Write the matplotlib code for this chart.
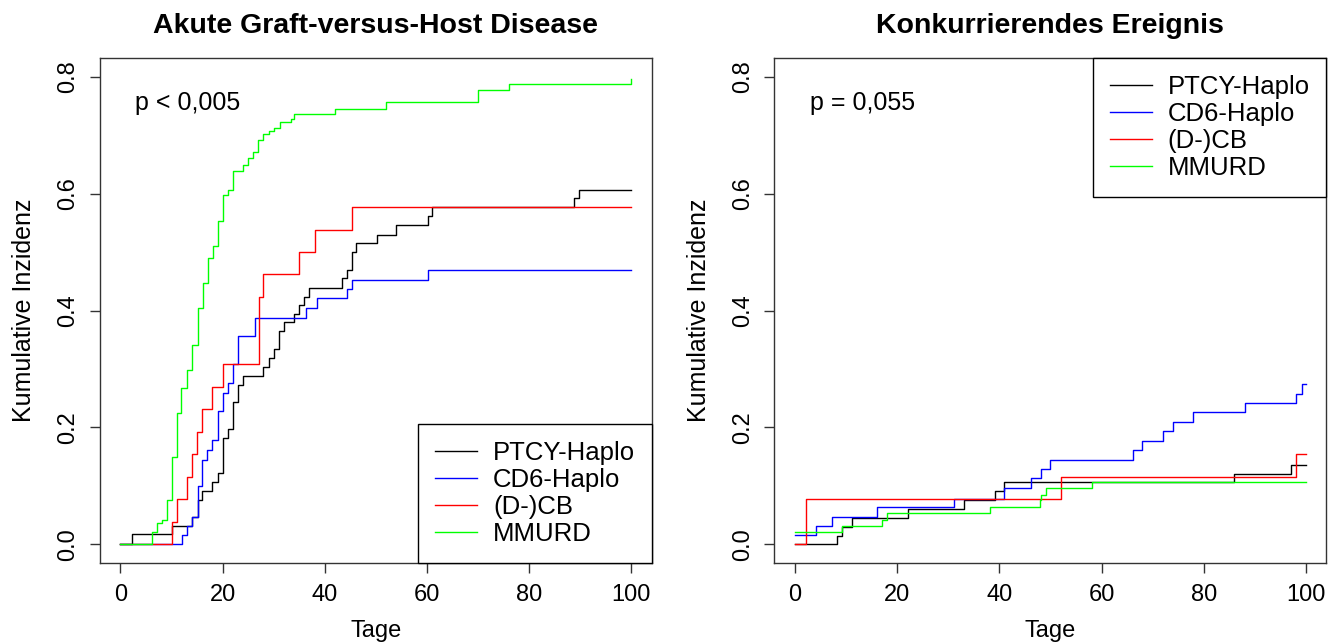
import matplotlib
matplotlib.use('Agg')
import matplotlib.pyplot as plt

plt.rcParams['font.family'] = ['Liberation Sans', 'DejaVu Sans']

groups = ['PTCY-Haplo', 'CD6-Haplo', '(D-)CB', 'MMURD']
colors = ['#000000', '#0000FF', '#FF0000', '#00FF00']

# acute GvHD - cumulative incidence (day, value), step functions
gvhd_ptcy_days = [0, 2.2, 10, 14, 15.2, 16, 18, 19, 20, 21, 22, 23, 24, 28, 29, 30, 31, 32, 34, 35, 36, 37,
                  43.3, 44.3, 45.3, 46.2, 50.3, 54, 60.1, 61, 88.8, 89.8, 100]
gvhd_ptcy_ci = [0, 0.018, 0.031, 0.046, 0.076, 0.092, 0.107, 0.122, 0.182, 0.197, 0.243, 0.272, 0.288, 0.304,
                0.319, 0.334, 0.365, 0.380, 0.394, 0.409, 0.424, 0.439, 0.455, 0.470, 0.501, 0.516, 0.530,
                0.546, 0.562, 0.578, 0.592, 0.606, 0.606]

gvhd_cd6_days = [0, 12, 13, 14, 15.2, 16, 17, 18, 19, 20, 21, 22, 23, 26.4, 36.4, 38.4, 44.3, 45.3, 60.1, 100]
gvhd_cd6_ci = [0, 0.016, 0.031, 0.047, 0.100, 0.145, 0.162, 0.179, 0.228, 0.259, 0.276, 0.308, 0.357, 0.388,
               0.404, 0.421, 0.437, 0.452, 0.469, 0.469]

gvhd_cb_days = [0, 10, 11, 13, 14, 15, 16, 18, 20, 27.1, 28, 35, 38, 45.3, 100]
gvhd_cb_ci = [0, 0.038, 0.077, 0.115, 0.154, 0.192, 0.231, 0.269, 0.308, 0.423, 0.462, 0.500, 0.538, 0.577, 0.577]

gvhd_mm_days = [0, 6.1, 7.1, 8.1, 9.1, 10, 11, 11.9, 13, 14, 15.1, 16.1, 17.1, 18.1, 19, 20, 21, 22, 23.9, 25,
                26, 27, 28, 29, 30, 31.3, 33.3, 34, 42, 52, 70, 76, 99.9, 100]
gvhd_mm_ci = [0, 0.021, 0.036, 0.042, 0.076, 0.149, 0.224, 0.268, 0.299, 0.341, 0.405, 0.447, 0.490, 0.511,
              0.554, 0.598, 0.607, 0.638, 0.649, 0.661, 0.672, 0.692, 0.702, 0.707, 0.713, 0.723, 0.728,
              0.736, 0.745, 0.757, 0.777, 0.788, 0.797, 0.797]

# competing event
comp_ptcy_days = [0, 8.2, 9.2, 11.2, 22.2, 33, 39.2, 41, 86, 97, 100]
comp_ptcy_ci = [0, 0.015, 0.030, 0.045, 0.061, 0.076, 0.091, 0.106, 0.121, 0.136, 0.136]

comp_cd6_days = [0, 4.2, 7.2, 16.1, 31.2, 41, 46.2, 48.2, 50, 66.1, 68, 72.1, 74, 78, 88, 98, 99.2, 100]
comp_cd6_ci = [0.016, 0.031, 0.047, 0.063, 0.078, 0.097, 0.113, 0.129, 0.145, 0.161, 0.177, 0.194, 0.210,
               0.226, 0.242, 0.258, 0.274, 0.274]

comp_cb_days = [0, 2.1, 52.1, 98, 100]
comp_cb_ci = [0, 0.077, 0.115, 0.154, 0.154]

comp_mm_days = [0, 9.2, 17.1, 18.1, 38.1, 47.9, 48.2, 49.2, 58.2, 100]
comp_mm_ci = [0.021, 0.032, 0.042, 0.053, 0.064, 0.075, 0.085, 0.096, 0.106, 0.106]

gvhd_curves = [(gvhd_ptcy_days, gvhd_ptcy_ci), (gvhd_cd6_days, gvhd_cd6_ci),
               (gvhd_cb_days, gvhd_cb_ci), (gvhd_mm_days, gvhd_mm_ci)]
comp_curves = [(comp_ptcy_days, comp_ptcy_ci), (comp_cd6_days, comp_cd6_ci),
               (comp_cb_days, comp_cb_ci), (comp_mm_days, comp_mm_ci)]

fig = plt.figure(figsize=(13.33, 6.44), dpi=100)
ax1 = fig.add_axes([0.075, 0.1258, 0.414, 0.784])
ax2 = fig.add_axes([0.581, 0.1258, 0.414, 0.784])

fs = 17


def draw_panel(ax, curves, title, ptext, legend_loc):
    for (days, ci), col, name in zip(curves, colors, groups):
        ax.step(days, ci, where='post', color=col, lw=1.0, label=name)
    ax.set_xlim(-4, 104)
    ax.set_ylim(-0.032, 0.832)
    ax.set_xticks([0, 20, 40, 60, 80, 100])
    ax.set_yticks([0.0, 0.2, 0.4, 0.6, 0.8])
    ax.set_yticklabels(['0.0', '0.2', '0.4', '0.6', '0.8'], rotation=90, va='center')
    ax.tick_params(direction='out', length=7, width=1, color='#333333', labelsize=fs, pad=8)
    for s in ax.spines.values():
        s.set_color('#333333')
        s.set_linewidth(1)
    ax.set_xlabel('Tage', fontsize=fs, labelpad=10)
    ax.set_ylabel('Kumulative Inzidenz', fontsize=18, labelpad=15)
    ax.set_title(title, fontsize=20.5, fontweight='bold', pad=18)
    ax.text(2.9, 0.755, ptext, fontsize=18, va='center', ha='left')
    leg = ax.legend(loc=legend_loc, fontsize=18.5, frameon=True, fancybox=False, borderaxespad=0,
                    handlelength=1.63, handletextpad=0.62, labelspacing=0.12, borderpad=0.65)
    leg.get_frame().set_edgecolor('#000000')
    leg.get_frame().set_linewidth(1)
    leg.get_frame().set_alpha(1)


draw_panel(ax1, gvhd_curves, 'Akute Graft-versus-Host Disease', 'p < 0,005', 'lower right')
draw_panel(ax2, comp_curves, 'Konkurrierendes Ereignis', 'p = 0,055', 'upper right')

fig.savefig('out.png', dpi=100)
